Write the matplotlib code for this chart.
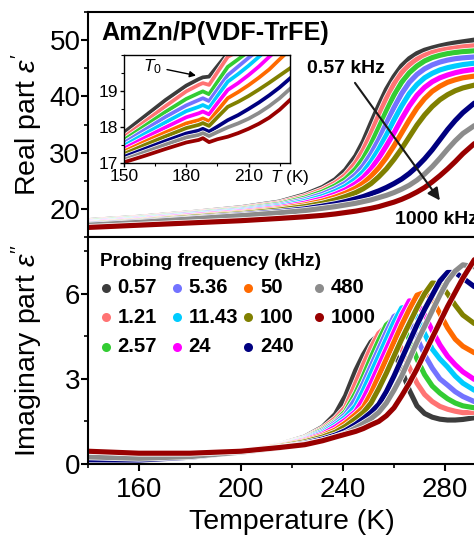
import matplotlib
matplotlib.use("Agg")
import matplotlib.pyplot as plt
import matplotlib.patheffects as pe
from matplotlib.ticker import MultipleLocator

plt.rcParams['font.family'] = ['Liberation Sans', 'DejaVu Sans']
plt.rcParams['mathtext.fontset'] = 'custom'
plt.rcParams['mathtext.rm'] = 'Liberation Sans'
plt.rcParams['mathtext.it'] = 'Liberation Sans:italic'
plt.rcParams['mathtext.bf'] = 'Liberation Sans:bold'

# probing frequencies (kHz) and colours
freqs = ['0.57', '1.21', '2.57', '5.36', '11.43', '24', '50', '100', '240', '480', '1000']
colors = ['#3c3c3c', '#ff7373', '#33cc33', '#7373ff', '#00ccff', '#ff00ff',
          '#ff6a00', '#808000', '#000080', '#8c8c8c', '#990000']

# temperature grid (K) for the main panels
temps = [140, 160, 180, 200, 215, 225, 232, 237, 241, 245, 248, 251, 254,
         257, 260, 263, 266, 269, 272, 275, 278, 281, 284, 287, 291.5]

# real part eps'
r_057 = [17.9, 18.5, 19.3, 20.2, 21.2, 22.5, 23.8, 25.2, 26.9, 29.4, 32.0, 35.2, 38.3, 41.2, 43.5, 45.4, 46.7, 47.6, 48.2, 48.6, 48.95, 49.25, 49.5, 49.7, 50.0]
r_121 = [17.8, 18.4, 19.2, 20.05, 21.0, 22.2, 23.4, 24.6, 26.0, 28.2, 30.5, 33.4, 36.6, 39.6, 42.2, 44.2, 45.6, 46.6, 47.3, 47.8, 48.15, 48.4, 48.6, 48.8, 49.0]
r_257 = [17.7, 18.3, 19.1, 19.9, 20.8, 21.9, 23.0, 24.1, 25.3, 27.1, 29.0, 31.5, 34.4, 37.4, 40.2, 42.5, 44.2, 45.4, 46.3, 46.9, 47.3, 47.6, 47.8, 47.95, 48.1]
r_536 = [17.6, 18.2, 19.0, 19.75, 20.6, 21.6, 22.6, 23.6, 24.6, 26.1, 27.7, 29.8, 32.3, 35.2, 38.0, 40.5, 42.5, 43.9, 44.9, 45.6, 46.1, 46.45, 46.7, 46.85, 47.0]
r_1143 = [17.5, 18.1, 18.85, 19.6, 20.4, 21.3, 22.2, 23.1, 24.0, 25.3, 26.6, 28.4, 30.6, 33.1, 35.8, 38.3, 40.5, 42.1, 43.3, 44.1, 44.7, 45.1, 45.4, 45.65, 45.9]
r_24 = [17.45, 18.0, 18.75, 19.45, 20.2, 21.0, 21.8, 22.6, 23.4, 24.5, 25.6, 27.1, 29.0, 31.2, 33.5, 36.0, 38.3, 40.2, 41.6, 42.6, 43.3, 43.8, 44.2, 44.5, 44.8]
r_50 = [17.35, 17.9, 18.6, 19.3, 20.0, 20.7, 21.4, 22.1, 22.8, 23.7, 24.6, 25.8, 27.3, 29.1, 31.2, 33.5, 35.8, 37.9, 39.6, 40.9, 41.8, 42.5, 42.95, 43.3, 43.6]
r_100 = [17.3, 17.8, 18.5, 19.15, 19.8, 20.4, 21.0, 21.6, 22.2, 22.9, 23.6, 24.5, 25.7, 27.1, 28.8, 30.7, 32.8, 34.9, 36.7, 38.2, 39.4, 40.3, 41.0, 41.5, 42.0]
r_240 = [17.2, 17.7, 18.3, 18.95, 19.5, 20.0, 20.5, 20.9, 21.3, 21.8, 22.2, 22.7, 23.2, 23.8, 24.5, 25.3, 26.3, 27.5, 28.9, 30.5, 32.3, 34.1, 35.7, 37.1, 38.8]
r_480 = [17.1, 17.6, 18.2, 18.8, 19.3, 19.7, 20.1, 20.4, 20.7, 21.0, 21.3, 21.6, 22.0, 22.4, 22.9, 23.5, 24.2, 25.1, 26.2, 27.5, 29.0, 30.6, 32.1, 33.4, 34.8]
r_1000 = [16.7, 17.1, 17.5, 17.9, 18.3, 18.6, 18.85, 19.1, 19.35, 19.6, 19.85, 20.1, 20.4, 20.8, 21.2, 21.7, 22.3, 23.0, 23.8, 24.8, 25.9, 27.1, 28.4, 29.8, 31.6]

# imaginary part eps''
i_057 = [0.12, 0.12, 0.25, 0.45, 0.68, 0.95, 1.3, 1.75, 2.4, 3.3, 3.85, 4.3, 4.55, 4.45, 4.0, 3.3, 2.6, 2.05, 1.78, 1.65, 1.58, 1.55, 1.55, 1.57, 1.63]
i_121 = [0.11, 0.12, 0.25, 0.45, 0.67, 0.92, 1.25, 1.6, 2.0, 2.85, 3.5, 4.1, 4.6, 4.85, 4.6, 4.05, 3.4, 2.85, 2.45, 2.2, 2.03, 1.93, 1.86, 1.81, 1.82]
i_257 = [0.11, 0.12, 0.25, 0.45, 0.66, 0.9, 1.2, 1.5, 1.85, 2.5, 3.1, 3.75, 4.35, 4.9, 5.13, 4.95, 4.4, 3.7, 3.15, 2.75, 2.5, 2.3, 2.15, 2.05, 1.98]
i_536 = [0.1, 0.12, 0.25, 0.45, 0.65, 0.88, 1.15, 1.45, 1.75, 2.3, 2.85, 3.45, 4.05, 4.65, 5.2, 5.35, 5.05, 4.45, 3.85, 3.38, 3.0, 2.78, 2.55, 2.38, 2.2]
i_1143 = [0.1, 0.12, 0.25, 0.45, 0.65, 0.86, 1.1, 1.38, 1.65, 2.05, 2.6, 3.2, 3.8, 4.4, 5.0, 5.5, 5.55, 5.2, 4.6, 4.05, 3.7, 3.42, 3.1, 2.85, 2.6]
i_24 = [0.1, 0.12, 0.25, 0.45, 0.64, 0.84, 1.05, 1.3, 1.55, 1.85, 2.3, 2.85, 3.45, 4.05, 4.65, 5.25, 5.75, 5.7, 5.25, 4.7, 4.2, 3.8, 3.5, 3.25, 2.98]
i_50 = [0.1, 0.12, 0.24, 0.44, 0.63, 0.81, 1.0, 1.2, 1.45, 1.75, 2.0, 2.5, 3.1, 3.7, 4.3, 4.9, 5.45, 5.95, 6.05, 5.8, 5.3, 4.8, 4.4, 4.15, 3.92]
i_100 = [0.12, 0.13, 0.24, 0.43, 0.61, 0.78, 0.95, 1.12, 1.33, 1.6, 1.82, 2.15, 2.65, 3.2, 3.8, 4.4, 4.95, 5.5, 6.0, 6.38, 6.35, 6.0, 5.6, 5.25, 4.95]
i_240 = [0.15, 0.14, 0.24, 0.42, 0.58, 0.73, 0.88, 1.02, 1.18, 1.4, 1.6, 1.82, 2.1, 2.55, 3.1, 3.7, 4.3, 4.9, 5.45, 5.95, 6.45, 6.75, 6.75, 6.55, 6.25]
i_480 = [0.25, 0.2, 0.26, 0.42, 0.57, 0.7, 0.82, 0.95, 1.08, 1.27, 1.43, 1.6, 1.82, 2.15, 2.6, 3.1, 3.7, 4.3, 4.85, 5.4, 5.95, 6.45, 6.8, 7.02, 6.95]
i_1000 = [0.45, 0.38, 0.38, 0.45, 0.58, 0.68, 0.82, 0.95, 1.05, 1.15, 1.25, 1.38, 1.5, 1.7, 1.98, 2.4, 2.85, 3.35, 3.9, 4.45, 5.0, 5.55, 6.05, 6.55, 7.2]

# inset: eps' around T0
temps_in = [150, 160, 170, 180, 186, 188, 191, 195, 200, 205, 210, 215, 220, 225, 230]
n_057 = [17.85, 18.3, 18.75, 19.15, 19.33, 19.38, 19.40, 19.69, 20.05, 20.35, 20.65, 20.95, 21.25, 21.55, 21.85]
n_121 = [17.72, 18.15, 18.58, 18.99, 19.17, 19.22, 19.17, 19.52, 19.95, 20.1, 20.35, 20.6, 20.85, 21.1, 21.4]
n_257 = [17.64, 18.03, 18.42, 18.78, 18.94, 18.99, 18.91, 19.25, 19.67, 19.88, 20.1, 20.35, 20.6, 20.85, 21.1]
n_536 = [17.56, 17.92, 18.28, 18.6, 18.75, 18.8, 18.72, 19.04, 19.44, 19.68, 19.92, 20.15, 20.4, 20.65, 20.9]
n_1143 = [17.48, 17.81, 18.13, 18.44, 18.56, 18.61, 18.53, 18.86, 19.26, 19.47, 19.7, 19.95, 20.2, 20.45, 20.7]
n_24 = [17.4, 17.7, 17.99, 18.27, 18.38, 18.43, 18.35, 18.66, 19.03, 19.22, 19.44, 19.68, 19.95, 20.2, 20.45]
n_50 = [17.32, 17.59, 17.85, 18.1, 18.19, 18.24, 18.16, 18.45, 18.8, 18.97, 19.16, 19.37, 19.6, 19.88, 20.15]
n_100 = [17.25, 17.5, 17.74, 17.97, 18.06, 18.11, 18.03, 18.27, 18.56, 18.7, 18.86, 19.04, 19.23, 19.43, 19.63]
n_240 = [17.17, 17.39, 17.61, 17.82, 17.9, 17.95, 17.87, 18.01, 18.19, 18.33, 18.5, 18.68, 18.88, 19.1, 19.35]
n_480 = [17.09, 17.3, 17.51, 17.71, 17.78, 17.83, 17.75, 17.86, 17.99, 18.1, 18.23, 18.39, 18.58, 18.8, 19.06]
n_1000 = [17.02, 17.2, 17.39, 17.57, 17.64, 17.69, 17.58, 17.66, 17.73, 17.83, 17.95, 18.09, 18.26, 18.48, 18.75]

real = [r_057, r_121, r_257, r_536, r_1143, r_24, r_50, r_100, r_240, r_480, r_1000]
imag = [i_057, i_121, i_257, i_536, i_1143, i_24, i_50, i_100, i_240, i_480, i_1000]
inset = [n_057, n_121, n_257, n_536, n_1143, n_24, n_50, n_100, n_240, n_480, n_1000]

W, H = 474, 540
fig = plt.figure(figsize=(W / 100, H / 100), dpi=100)
ax1 = fig.add_axes([88 / W, 1 - 237 / H, 408 / W, 225 / H])
ax2 = fig.add_axes([88 / W, 1 - 464 / H, 408 / W, 227 / H])
axi = fig.add_axes([124 / W, 1 - 163 / H, 166 / W, 108 / H])

def stroke(lw):
    return [pe.Stroke(linewidth=lw + 1.1, foreground='white'), pe.Normal()]

for ys, c in zip(real, colors):
    ax1.plot(temps, ys, color=c, lw=3.7, solid_capstyle='round', path_effects=stroke(3.7))
for ys, c in zip(imag, colors):
    ax2.plot(temps, ys, color=c, lw=3.7, solid_capstyle='round', path_effects=stroke(3.7))
for ys, c in zip(inset, colors):
    axi.plot(temps_in, ys, color=c, lw=2.7, path_effects=stroke(2.7))

for ax in (ax1, ax2):
    ax.set_xlim(140, 300)
    ax.xaxis.set_major_locator(MultipleLocator(40))
    ax.xaxis.set_minor_locator(MultipleLocator(20))
    for s in ax.spines.values():
        s.set_linewidth(1.5)
    ax.tick_params(which='major', direction='out', length=5, width=1.5, labelsize=20)
    ax.tick_params(which='minor', direction='out', length=3, width=1.2)
    ax.tick_params(axis='y', which='major', pad=0.5)
    ax.tick_params(axis='x', which='major', pad=4.5)
    ax.tick_params(top=False, right=False, which='both')

ax1.set_ylim(15, 55)
ax1.yaxis.set_major_locator(MultipleLocator(10))
ax1.yaxis.set_minor_locator(MultipleLocator(5))
ax1.set_xticks([160, 200, 240, 280])
ax1.tick_params(labelbottom=False)
ax1.set_ylabel("Real part $\\varepsilon'$", fontsize=20.5)
ax1.yaxis.set_label_coords(-0.105, 0.5)

ax2.set_ylim(0, 8)
ax2.yaxis.set_major_locator(MultipleLocator(3))
ax2.yaxis.set_minor_locator(MultipleLocator(1.5))
ax2.set_xticks([160, 200, 240, 280])
ax2.set_xlabel("Temperature (K)", fontsize=20.5, labelpad=4)
ax2.set_ylabel("Imaginary part $\\varepsilon''$", fontsize=20.5)
ax2.yaxis.set_label_coords(-0.105, 0.5)

# annotations in the top panel
ax1.text(0.034, 0.905, "AmZn/P(VDF-TrFE)", transform=ax1.transAxes,
         fontsize=18.2, fontweight='bold', va='center', ha='left')
ax1.text(0.537, 0.751, "0.57 kHz", transform=ax1.transAxes,
         fontsize=14, fontweight='bold', va='center', ha='left')
ax1.text(0.752, 0.076, "1000 kHz", transform=ax1.transAxes,
         fontsize=14, fontweight='bold', va='center', ha='left')
ax1.annotate("", xy=(278.0, 21.5), xytext=(244.7, 42.4),
             arrowprops=dict(arrowstyle='-|>', color='#1a1a1a', lw=1.5,
                             mutation_scale=18, shrinkA=0, shrinkB=0))

# legend drawn by hand in the bottom panel
def px_to_ax2(px, py):
    return (px - 88) / 408, 1 - (py - 237) / 227

tx, ty = px_to_ax2(100, 261)
ax2.text(tx, ty, "Probing frequency (kHz)", transform=ax2.transAxes,
         fontsize=13.8, fontweight='bold', va='center', ha='left')
for k, (f, c) in enumerate(zip(freqs, colors)):
    col, row = k // 3, k % 3
    mx = 105.5 + col * 71.2
    my = 287.5 + row * 29.7
    x0, y0 = px_to_ax2(mx, my)
    x1, _ = px_to_ax2(mx + 12.0, my)
    ax2.plot([x0], [y0], 'o', color=c, ms=6.5, mec='none', transform=ax2.transAxes)
    ax2.text(x1, y0, f, transform=ax2.transAxes, fontsize=14.6,
             fontweight='bold', va='center', ha='left')

# inset
axi.set_xlim(150, 230)
axi.set_ylim(17, 20)
axi.set_xticks([150, 180, 210])
axi.xaxis.set_minor_locator(MultipleLocator(15))
axi.set_yticks([17, 18, 19])
axi.yaxis.set_minor_locator(MultipleLocator(0.5))
for s in axi.spines.values():
    s.set_linewidth(1.0)
axi.tick_params(which='major', direction='out', length=3, width=1, labelsize=12.5, pad=1.5)
axi.tick_params(which='minor', direction='out', length=2, width=0.8)
axi.text(0.88, -0.135, "$T$ (K)", transform=axi.transAxes, fontsize=12.5,
         va='center', ha='left')
axi.annotate("$T_0$", xy=(184.7, 19.43), xytext=(163.5, 19.68),
             fontsize=12.5, ha='center', va='center',
             arrowprops=dict(arrowstyle='-|>', color='black', lw=1.0,
                             mutation_scale=9, shrinkA=2, shrinkB=0))

fig.savefig("out.png", dpi=100)
